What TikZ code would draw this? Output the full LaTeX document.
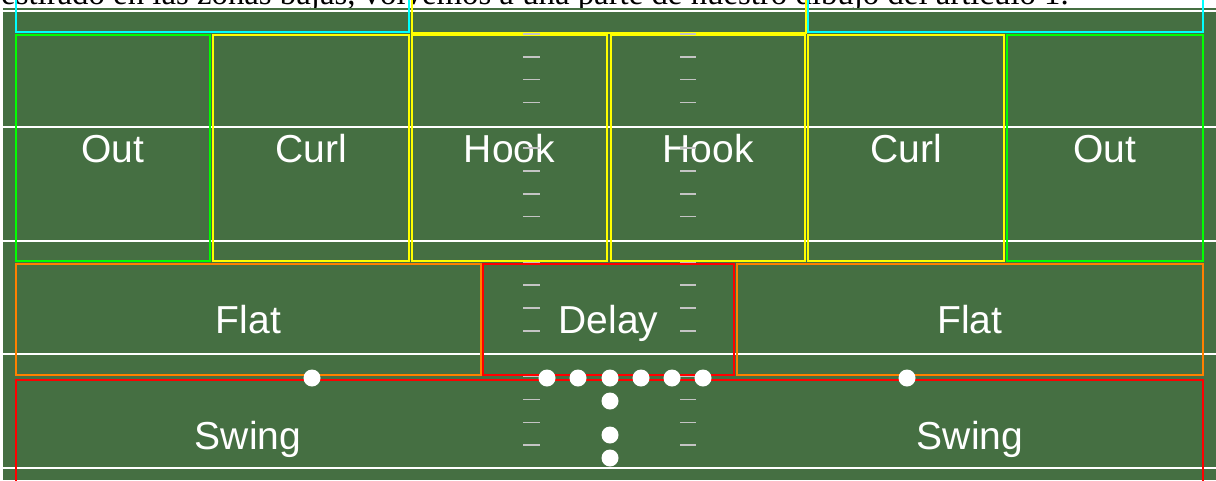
\documentclass[tikz,border=0pt]{standalone}
\usepackage{fontspec}
\setmainfont{Liberation Serif}
\newfontfamily\zonefont{Liberation Sans}
\usepackage{xcolor}
\definecolor{turf}{RGB}{69,111,66}
\definecolor{hashgray}{RGB}{196,196,196}
\definecolor{zcyan}{RGB}{0,255,255}
\definecolor{zyellow}{RGB}{255,255,0}
\definecolor{zgreen}{RGB}{0,255,0}
\definecolor{zorange}{RGB}{255,128,0}
\definecolor{zred}{RGB}{255,0,0}

\begin{document}
\begin{tikzpicture}[x=1pt,y=-1pt,
  zonetext/.style={text=white,inner sep=0pt,text height=28pt,text depth=0pt,
    font=\zonefont\fontsize{39}{40}\selectfont},
  zone/.style={zonetext,draw=#1,line width=2.2pt},
  player/.style={circle,fill=white,inner sep=0pt,minimum size=17pt},
  yard/.style={white,line width=1.5pt},
  hash/.style={hashgray,line width=1.6pt}]
  \useasboundingbox (0,0) rectangle (1216,480);
  \clip (0,0) rectangle (1216,480);
  % caption line, cut at the top
  \node[anchor=base west,inner sep=0pt,font=\fontsize{32.8}{34}\selectfont] (caption) at (1,4.5)
    {estirado en las zonas bajas, volvemos a una parte de nuestro dibujo del artículo 1.};
  % field
  \fill[turf] (3,8) rectangle (1216,480);
  \foreach \y in {11,127,241,354,468}
    \draw[yard] (3,\y) -- (1216,\y);
  % deep zones (cut at the top)
  \node[zone=zcyan,minimum width=393pt,minimum height=52pt] (deepL) at (212.5,6) {};
  \node[zone=zyellow,minimum width=394pt,minimum height=53pt] (deepM) at (609,6.5) {};
  \node[zone=zcyan,minimum width=395pt,minimum height=52pt] (deepR) at (1005.5,6) {};
  % intermediate zones
  \begin{scope}[every node/.append style={minimum height=226pt}]
    \node[zone=zgreen,minimum width=194pt] (outL) at (113,148) {Out};
    \node[zone=zyellow,minimum width=196pt] (curlL) at (311,148) {Curl};
    \node[zone=zyellow,minimum width=195pt] (hookL) at (509.5,148) {Hook};
    \node[zone=zyellow,minimum width=194pt] (hookR) at (708,148) {Hook};
    \node[zone=zyellow,minimum width=196pt] (curlR) at (906,148) {Curl};
    \node[zone=zgreen,minimum width=196pt] (outR) at (1105,148) {Out};
  \end{scope}
  % short zones
  \begin{scope}[every node/.append style={minimum height=111pt}]
    \node[zone=zorange,minimum width=465pt] (flatL) at (248.5,319.5) {Flat};
    \node[zone=zred,minimum width=251pt] (delay) at (608.5,319.5) {Delay};
    \node[zone=zorange,minimum width=466pt] (flatR) at (970,319.5) {Flat};
  \end{scope}
  % backfield
  \draw[zred,line width=2.2pt] (16,500) -- (16,380) -- (1203,380) -- (1203,500);
  \node[zonetext] (swingL) at (248,435) {Swing};
  \node[zonetext] (swingR) at (970,435) {Swing};
  % hash marks
  \foreach \k in {1,2,3,4,6,7,8,9,11,12,13,14,16,17,18,19} {
    \draw[hash] (523,{11+22.85*\k}) -- (540,{11+22.85*\k});
    \draw[hash] (680,{11+22.85*\k}) -- (696,{11+22.85*\k});
  }
  % offense
  \foreach \x [count=\i] in {547,578,610,641,672,703}
    \node[player] (ol\i) at (\x,378) {};
  \node[player] (wrL) at (312,378) {};
  \node[player] (wrR) at (907,378) {};
  \node[player] (qb) at (610,401) {};
  \node[player] (fb) at (610,435) {};
  \node[player] (tb) at (610,458) {};
\end{tikzpicture}
\end{document}
